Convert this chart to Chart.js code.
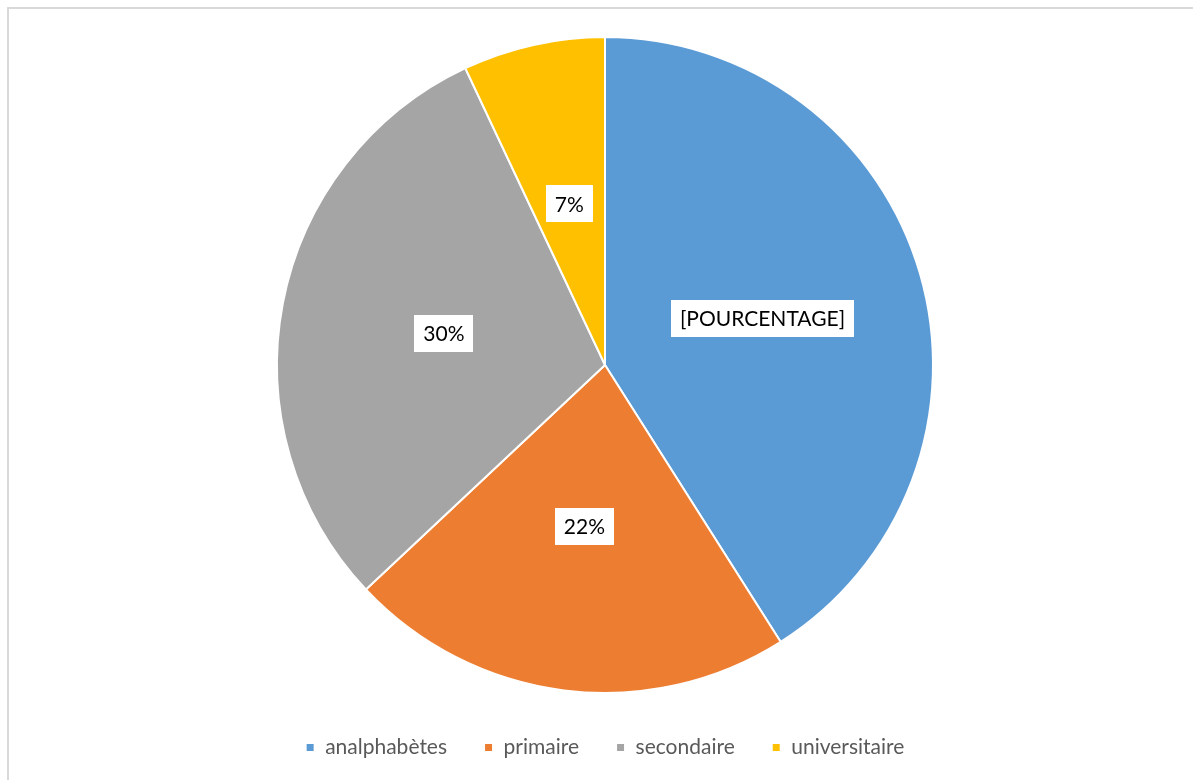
<!DOCTYPE html>
<html>
<head>
<meta charset="utf-8">
<script src="https://cdn.jsdelivr.net/npm/chart.js"></script>
<style>
  html, body { margin: 0; padding: 0; background: #fff; }
  #wrap { position: relative; width: 1193px; height: 780px; overflow: hidden; }
  #frame { position: absolute; left: 7px; top: 7px; width: 1200px; height: 800px;
           border-left: 2px solid #d9d9d9; border-top: 2px solid #d9d9d9; }
  #myChart { position: absolute; left: 0; top: 0; }
</style>
</head>
<body>
<div id="wrap">
  <div id="frame"></div>
  <canvas id="myChart" width="1193" height="780"></canvas>
</div>
<script>
// niveau d'instruction
const labels = ['analphabètes', 'primaire', 'secondaire', 'universitaire'];
const values = [41, 22, 30, 7];
const colors = ['#5B9BD5', '#ED7D31', '#A5A5A5', '#FFC000'];
// the first slice keeps its placeholder text instead of the number
const sliceText = ['[POURCENTAGE]', null, null, null];

const FONT = 'Lato, "Open Sans", sans-serif';

// white boxed labels half way out on each slice
const boxLabels = {
    id: 'boxLabels',
    afterDatasetsDraw(chart) {
        const ctx = chart.ctx;
        const arcs = chart.getDatasetMeta(0).data;
        ctx.save();
        ctx.font = '21px ' + FONT;
        ctx.textAlign = 'center';
        ctx.textBaseline = 'middle';
        arcs.forEach(function(arc, i) {
            const pos = arc.tooltipPosition();
            const txt = sliceText[i] || (values[i] + '%');
            const w = ctx.measureText(txt).width + 18;
            const h = 37;
            ctx.fillStyle = '#fff';
            ctx.fillRect(Math.round(pos.x - w / 2), Math.round(pos.y - h / 2 - 1), Math.round(w), h);
            ctx.fillStyle = '#000';
            ctx.fillText(txt, pos.x, pos.y);
        });
        ctx.restore();
    }
};

const data = {
    labels: labels,
    datasets: [{
        data: values,
        backgroundColor: colors,
        borderColor: '#fff',
        borderWidth: 2,
        radius: 328
    }]
};

const config = {
    type: 'pie',
    data: data,
    options: {
        responsive: false,
        animation: false,
        layout: { padding: { top: 30, bottom: 12, left: 17, right: 0 } },
        plugins: {
            tooltip: { enabled: false },
            legend: {
                position: 'bottom',
                labels: {
                    boxWidth: 9,
                    boxHeight: 9,
                    padding: 37,
                    color: '#595959',
                    font: { family: FONT, size: 21 }
                }
            }
        }
    },
    plugins: [boxLabels]
};

var myChart = new Chart(document.getElementById('myChart'), config);
</script>
</body>
</html>
